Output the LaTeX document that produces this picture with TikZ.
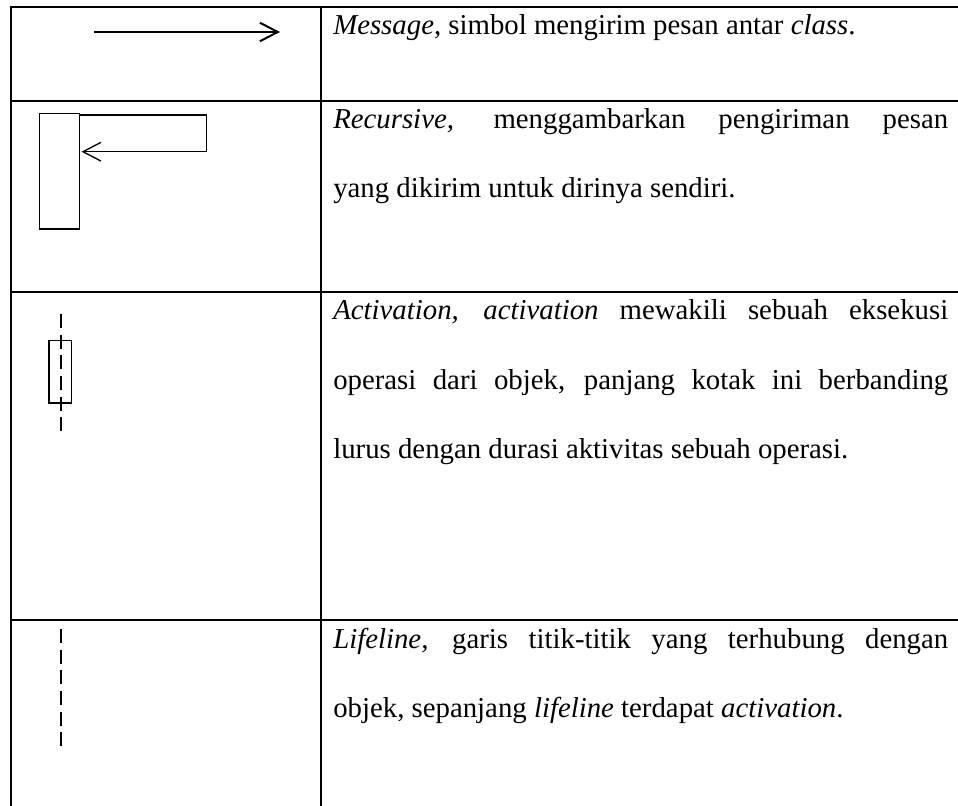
\documentclass[tikz,border=0pt]{standalone}
\usepackage{fontspec}
\setmainfont{Liberation Serif}
\usetikzlibrary{arrows.meta}
\begin{document}
\begin{tikzpicture}[x=0.75pt,y=-0.75pt,
  grid/.style={line width=1.5pt},
  sym/.style={line width=1pt},
  symdash/.style={line width=1pt,dash pattern=on 10.5pt off 5pt},
  txt/.style={anchor=base west,inner sep=0pt,font=\fontsize{21.6}{24}\selectfont},
  opentip/.style={-{Straight Barb[length=13.5pt,width=14pt,line width=1pt]}}
]
\useasboundingbox (0,0) rectangle (958,806);
% table grid
\draw[grid] (958,6.7) -- (11,6.7) -- (11,806);
\draw[grid] (321,6.7) -- (321,806);
\draw[grid] (11,100.7) -- (958,100.7);
\draw[grid] (11,291.7) -- (958,291.7);
\draw[grid] (11,620) -- (958,620);
% message arrow
\coordinate (m1) at (94,32);
\coordinate (m2) at (280,32);
\draw[line width=1.5pt,-{Straight Barb[length=13.5pt,width=14pt,line width=1.5pt]}] (m1) -- (m2);
% recursive
\node[sym,draw,minimum width=30pt,minimum height=86.7pt,inner sep=0pt,anchor=north west] (rbox) at (38.7,112.7) {};
\coordinate (r1) at (78.7,115);
\coordinate (r2) at (206.7,115);
\coordinate (r3) at (206.7,151.7);
\coordinate (r4) at (81.5,151.7);
\draw[sym] (r1) -- (r2) -- (r3);
\draw[sym,opentip] (r3) -- (r4);
% activation
\coordinate (a1) at (61,314);
\coordinate (a2) at (61,432);
\node[sym,draw,minimum width=17pt,minimum height=46.7pt,inner sep=0pt,anchor=north west] (abox) at (48.3,340) {};
\draw[symdash] (a1) -- (a2);
% lifeline
\coordinate (l1) at (61,629);
\coordinate (l2) at (61,747);
\draw[symdash] (l1) -- (l2);
% texts
\node[txt] (t1) at (333,35) {\textit{Message}, simbol mengirim pesan antar \textit{class}.};
\node[txt] (t2a) at (333,129) {\makebox[461.25pt][s]{\textit{Recursive,} menggambarkan pengiriman pesan}};
\node[txt] (t2b) at (333,198) {yang dikirim untuk dirinya sendiri.};
\node[txt] (t3a) at (333,320) {\makebox[461.25pt][s]{\textit{Activation, activation} mewakili sebuah eksekusi}};
\node[txt] (t3b) at (333,389) {\makebox[461.25pt][s]{operasi dari objek, panjang kotak ini berbanding}};
\node[txt] (t3c) at (333,458) {lurus dengan durasi aktivitas sebuah operasi.};
\node[txt] (t4a) at (333,648) {\makebox[461.25pt][s]{\textit{Lifeline,} garis titik-titik yang terhubung dengan}};
\node[txt] (t4b) at (333,717) {objek, sepanjang \textit{lifeline} terdapat \textit{activation}.};
\end{tikzpicture}
\end{document}
